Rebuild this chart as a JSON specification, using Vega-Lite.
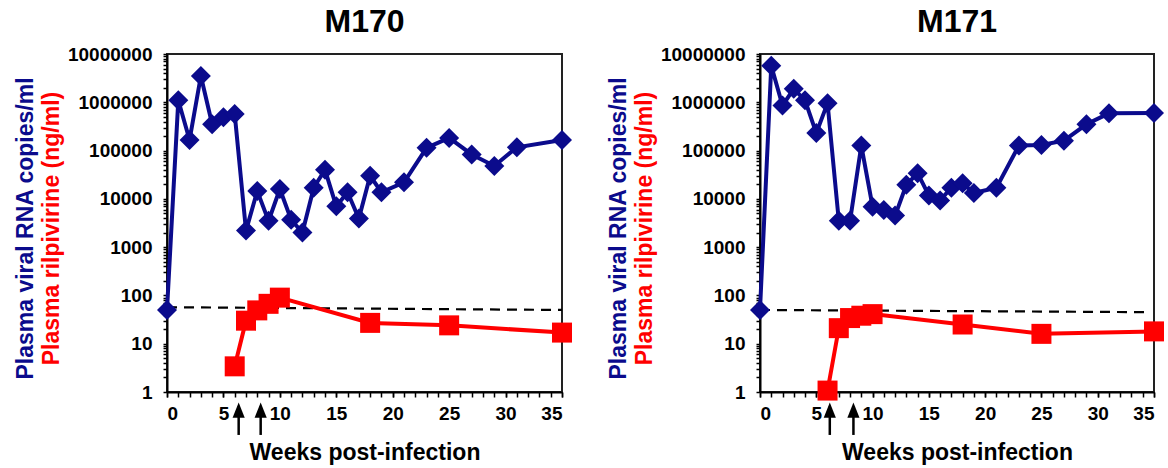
{
  "$schema": "https://vega.github.io/schema/vega-lite/v6.json",
  "padding": {"left": 13, "top": 5, "right": 5, "bottom": 5},
  "spacing": 33,
  "config": {
    "font": "Liberation Sans",
    "view": {"stroke": "#222222", "strokeWidth": 2},
    "axis": {
      "grid": false,
      "domainColor": "black",
      "domainWidth": 2,
      "tickColor": "black",
      "tickWidth": 1.5,
      "labelFont": "Liberation Sans",
      "labelFontWeight": "bold",
      "labelFontSize": 19,
      "labelColor": "black",
      "titleFont": "Liberation Sans",
      "titleFontWeight": "bold",
      "titleFontSize": 23
    },
    "title": {"font": "Liberation Sans", "fontWeight": "bold", "fontSize": 32, "color": "black", "anchor": "middle", "offset": 6}
  },
  "datasets": {
    "v170": [
      {"week": 0, "value": 50}, {"week": 1, "value": 1100000}, {"week": 2, "value": 166000},
      {"week": 3, "value": 3500000}, {"week": 4, "value": 350000}, {"week": 5, "value": 490000},
      {"week": 6, "value": 570000}, {"week": 7, "value": 2200}, {"week": 8, "value": 14500},
      {"week": 9, "value": 3500}, {"week": 10, "value": 16000}, {"week": 11, "value": 3700},
      {"week": 12, "value": 2000}, {"week": 13, "value": 17000}, {"week": 14, "value": 40000},
      {"week": 15, "value": 7000}, {"week": 16, "value": 13700}, {"week": 17, "value": 3900},
      {"week": 18, "value": 30000}, {"week": 19, "value": 13700}, {"week": 21, "value": 22000},
      {"week": 23, "value": 114000}, {"week": 25, "value": 183000}, {"week": 27, "value": 83000},
      {"week": 29, "value": 48000}, {"week": 31, "value": 117000}, {"week": 35, "value": 166000}
    ],
    "r170": [
      {"week": 6, "value": 3.4}, {"week": 7, "value": 30}, {"week": 8, "value": 49},
      {"week": 9, "value": 67}, {"week": 10, "value": 90}, {"week": 18, "value": 27},
      {"week": 25, "value": 24}, {"week": 35, "value": 17}
    ],
    "d170": [{"week": 0, "value": 57}, {"week": 35, "value": 50}],
    "a170": [
      {"week": 6.35, "lo": 0.129, "hi": 0.5, "head": 0.42},
      {"week": 8.3, "lo": 0.129, "hi": 0.5, "head": 0.42}
    ],
    "v171": [
      {"week": 0, "value": 50}, {"week": 1, "value": 5700000}, {"week": 2, "value": 860000},
      {"week": 3, "value": 1900000}, {"week": 4, "value": 1100000}, {"week": 5, "value": 230000},
      {"week": 6, "value": 960000}, {"week": 7, "value": 3500}, {"week": 8, "value": 3500},
      {"week": 9, "value": 127000}, {"week": 10, "value": 6900}, {"week": 11, "value": 5900},
      {"week": 12, "value": 4500}, {"week": 13, "value": 19500}, {"week": 14, "value": 34000},
      {"week": 15, "value": 11800}, {"week": 16, "value": 9300}, {"week": 17, "value": 17000},
      {"week": 18, "value": 21000}, {"week": 19, "value": 13200}, {"week": 21, "value": 17000},
      {"week": 23, "value": 127000}, {"week": 25, "value": 130000}, {"week": 27, "value": 160000},
      {"week": 29, "value": 350000}, {"week": 31, "value": 590000}, {"week": 35, "value": 600000}
    ],
    "r171": [
      {"week": 6, "value": 1.07}, {"week": 7, "value": 21}, {"week": 8, "value": 34},
      {"week": 9, "value": 38}, {"week": 10, "value": 41}, {"week": 18, "value": 25},
      {"week": 25, "value": 16}, {"week": 35, "value": 18}
    ],
    "d171": [{"week": 0, "value": 50}, {"week": 34.5, "value": 45}],
    "a171": [
      {"week": 6.2, "lo": 0.129, "hi": 0.5, "head": 0.42},
      {"week": 8.3, "lo": 0.129, "hi": 0.5, "head": 0.42}
    ]
  },
  "hconcat": [
    {
      "title": {"text": "M170"},
      "width": 395,
      "height": 338,
      "resolve": {"axis": {"x": "independent", "y": "independent"}},
      "layer": [
        {
          "data": {"name": "d170"},
          "mark": {"type": "line", "color": "black", "strokeWidth": 2.2, "strokeDash": [10, 7]},
          "encoding": {
            "x": {"field": "week", "type": "quantitative",
              "scale": {"domain": [0, 35], "nice": false, "zero": false},
              "axis": {"orient": "bottom", "values": [0, 5, 10, 15, 20, 25, 30, 35],
                "labelOverlap": false, "tickSize": 5, "labelPadding": 22.5, "labelBaseline": "alphabetic",
                "title": "Weeks post-infection", "titleColor": "black", "titleBaseline": "alphabetic", "titleY": 67}},
            "y": {"field": "value", "type": "quantitative",
              "scale": {"type": "log", "domain": [1, 10000000], "nice": false},
              "axis": {"orient": "left",
                "values": [1,2,3,4,5,6,7,8,9,10,20,30,40,50,60,70,80,90,100,200,300,400,500,600,700,800,900,1000,2000,3000,4000,5000,6000,7000,8000,9000,10000,20000,30000,40000,50000,60000,70000,80000,90000,100000,200000,300000,400000,500000,600000,700000,800000,900000,1000000,2000000,3000000,4000000,5000000,6000000,7000000,8000000,9000000,10000000],
                "format": "d",
                "labelExpr": "indexof([1,10,100,1000,10000,100000,1000000,10000000], datum.value) >= 0 ? datum.label : ''",
                "labelOverlap": false, "tickSize": 4, "labelPadding": 11,
                "title": "Plasma rilpivirine (ng/ml)", "titleColor": "#ff0000",
                "titleBaseline": "alphabetic", "titleX": -109, "titleY": 174, "titleAlign": "center", "titleAngle": 270}}
          }
        },
        {
          "data": {"name": "v170"},
          "mark": {"type": "line", "color": "#0b0b8c", "strokeWidth": 4,
            "point": {"shape": "diamond", "size": 400, "filled": true, "color": "#0b0b8c", "opacity": 1}},
          "encoding": {
            "x": {"field": "week", "type": "quantitative",
              "scale": {"domain": [0, 35], "nice": false, "zero": false},
              "axis": {"orient": "bottom", "values": [0,1,2,3,4,5,6,7,8,9,10,11,12,13,14,15,16,17,18,19,20,21,22,23,24,25,26,27,28,29,30,31,32,33,34,35],
                "labels": false, "domain": false, "tickSize": 5, "title": null}},
            "y": {"field": "value", "type": "quantitative",
              "scale": {"type": "log", "domain": [1, 10000000], "nice": false},
              "axis": {"orient": "left", "labels": false, "ticks": false, "domain": false,
                "title": "Plasma viral RNA copies/ml", "titleColor": "#0b0b8c",
                "titleBaseline": "alphabetic", "titleX": -135, "titleY": 174, "titleAlign": "center", "titleAngle": 270}}
          }
        },
        {
          "data": {"name": "r170"},
          "mark": {"type": "line", "color": "#ff0000", "strokeWidth": 4,
            "point": {"shape": "square", "size": 400, "filled": true, "color": "#ff0000", "opacity": 1}},
          "encoding": {
            "x": {"field": "week", "type": "quantitative", "scale": {"domain": [0, 35], "nice": false, "zero": false}, "axis": null},
            "y": {"field": "value", "type": "quantitative",
              "scale": {"type": "log", "domain": [1, 10000000], "nice": false}, "axis": null}
          }
        },
        {
          "data": {"name": "a170"},
          "mark": {"type": "rule", "color": "black", "strokeWidth": 2.5},
          "encoding": {
            "x": {"field": "week", "type": "quantitative", "scale": {"domain": [0, 35], "nice": false, "zero": false}, "axis": null},
            "y": {"field": "lo", "type": "quantitative",
              "scale": {"type": "log", "domain": [1, 10000000], "nice": false}, "axis": null},
            "y2": {"field": "hi"}
          }
        },
        {
          "data": {"name": "a170"},
          "mark": {"type": "point", "shape": "M0,-1L0.8,1L-0.8,1Z", "size": 230, "filled": true, "color": "black", "opacity": 1},
          "encoding": {
            "x": {"field": "week", "type": "quantitative", "scale": {"domain": [0, 35], "nice": false, "zero": false}, "axis": null},
            "y": {"field": "head", "type": "quantitative",
              "scale": {"type": "log", "domain": [1, 10000000], "nice": false}, "axis": null}
          }
        }
      ]
    },
    {
      "title": {"text": "M171"},
      "width": 394,
      "height": 338,
      "resolve": {"axis": {"x": "independent", "y": "independent"}},
      "layer": [
        {
          "data": {"name": "d171"},
          "mark": {"type": "line", "color": "black", "strokeWidth": 2.2, "strokeDash": [10, 7]},
          "encoding": {
            "x": {"field": "week", "type": "quantitative",
              "scale": {"domain": [0, 35], "nice": false, "zero": false},
              "axis": {"orient": "bottom", "values": [0, 5, 10, 15, 20, 25, 30, 35],
                "labelOverlap": false, "tickSize": 5, "labelPadding": 22.5, "labelBaseline": "alphabetic",
                "title": "Weeks post-infection", "titleColor": "black", "titleBaseline": "alphabetic", "titleY": 67}},
            "y": {"field": "value", "type": "quantitative",
              "scale": {"type": "log", "domain": [1, 10000000], "nice": false},
              "axis": {"orient": "left",
                "values": [1,2,3,4,5,6,7,8,9,10,20,30,40,50,60,70,80,90,100,200,300,400,500,600,700,800,900,1000,2000,3000,4000,5000,6000,7000,8000,9000,10000,20000,30000,40000,50000,60000,70000,80000,90000,100000,200000,300000,400000,500000,600000,700000,800000,900000,1000000,2000000,3000000,4000000,5000000,6000000,7000000,8000000,9000000,10000000],
                "format": "d",
                "labelExpr": "indexof([1,10,100,1000,10000,100000,1000000,10000000], datum.value) >= 0 ? datum.label : ''",
                "labelOverlap": false, "tickSize": 4, "labelPadding": 11,
                "title": "Plasma rilpivirine (ng/ml)", "titleColor": "#ff0000",
                "titleBaseline": "alphabetic", "titleX": -109, "titleY": 174, "titleAlign": "center", "titleAngle": 270}}
          }
        },
        {
          "data": {"name": "v171"},
          "mark": {"type": "line", "color": "#0b0b8c", "strokeWidth": 4,
            "point": {"shape": "diamond", "size": 400, "filled": true, "color": "#0b0b8c", "opacity": 1}},
          "encoding": {
            "x": {"field": "week", "type": "quantitative",
              "scale": {"domain": [0, 35], "nice": false, "zero": false},
              "axis": {"orient": "bottom", "values": [0,1,2,3,4,5,6,7,8,9,10,11,12,13,14,15,16,17,18,19,20,21,22,23,24,25,26,27,28,29,30,31,32,33,34,35],
                "labels": false, "domain": false, "tickSize": 5, "title": null}},
            "y": {"field": "value", "type": "quantitative",
              "scale": {"type": "log", "domain": [1, 10000000], "nice": false},
              "axis": {"orient": "left", "labels": false, "ticks": false, "domain": false,
                "title": "Plasma viral RNA copies/ml", "titleColor": "#0b0b8c",
                "titleBaseline": "alphabetic", "titleX": -135, "titleY": 174, "titleAlign": "center", "titleAngle": 270}}
          }
        },
        {
          "data": {"name": "r171"},
          "mark": {"type": "line", "color": "#ff0000", "strokeWidth": 4,
            "point": {"shape": "square", "size": 400, "filled": true, "color": "#ff0000", "opacity": 1}},
          "encoding": {
            "x": {"field": "week", "type": "quantitative", "scale": {"domain": [0, 35], "nice": false, "zero": false}, "axis": null},
            "y": {"field": "value", "type": "quantitative",
              "scale": {"type": "log", "domain": [1, 10000000], "nice": false}, "axis": null}
          }
        },
        {
          "data": {"name": "a171"},
          "mark": {"type": "rule", "color": "black", "strokeWidth": 2.5},
          "encoding": {
            "x": {"field": "week", "type": "quantitative", "scale": {"domain": [0, 35], "nice": false, "zero": false}, "axis": null},
            "y": {"field": "lo", "type": "quantitative",
              "scale": {"type": "log", "domain": [1, 10000000], "nice": false}, "axis": null},
            "y2": {"field": "hi"}
          }
        },
        {
          "data": {"name": "a171"},
          "mark": {"type": "point", "shape": "M0,-1L0.8,1L-0.8,1Z", "size": 230, "filled": true, "color": "black", "opacity": 1},
          "encoding": {
            "x": {"field": "week", "type": "quantitative", "scale": {"domain": [0, 35], "nice": false, "zero": false}, "axis": null},
            "y": {"field": "head", "type": "quantitative",
              "scale": {"type": "log", "domain": [1, 10000000], "nice": false}, "axis": null}
          }
        }
      ]
    }
  ]
}
